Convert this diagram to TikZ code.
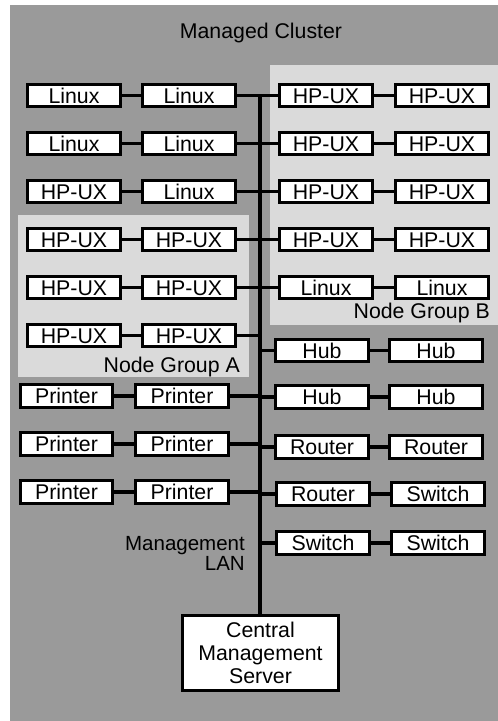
\documentclass[tikz,border=0pt]{standalone}
\usepackage{fontspec}
\setmainfont{Liberation Sans}
\definecolor{outergray}{HTML}{9A9A9A}
\definecolor{groupgray}{HTML}{DADADA}
\begin{document}
\begin{tikzpicture}[x=1pt,y=-1pt,
  devbox/.style={draw=black,line width=2.8pt,fill=white,minimum width=92.5pt,minimum height=22.5pt,
    inner sep=0pt,text height=15.2pt,text depth=0pt,font=\fontsize{21.3}{24}\selectfont},
  link/.style={line width=3.2pt,black},
  lbl/.style={inner sep=0pt,font=\fontsize{21.3}{24}\selectfont}]
\useasboundingbox (0,0) rectangle (498,721);
% backgrounds
\fill[outergray] (10,5) rectangle (498,721);
\fill[groupgray] (270,65) rectangle (498,325);
\fill[groupgray] (17.7,215) rectangle (249,377);
\node[lbl,anchor=base] (title) at (261,38) {Managed Cluster};
\node[lbl,anchor=base east] (grpB) at (490,318.5) {Node Group B};
\node[lbl,anchor=base east] (grpA) at (240,372) {Node Group A};
% bus
\coordinate (bustop) at (259.7,95.5);
\coordinate (busbot) at (259.7,614);
\draw[link,line width=3.6pt] (bustop) -- (busbot);
% left side rows 1-6
\node[devbox] (l1a) at (74,95.5) {Linux};
\node[devbox] (l1b) at (189,95.5) {Linux};
\node[devbox] (l2a) at (74,143.5) {Linux};
\node[devbox] (l2b) at (189,143.5) {Linux};
\node[devbox] (l3a) at (74,191.5) {HP-UX};
\node[devbox] (l3b) at (189,191.5) {Linux};
\node[devbox] (l4a) at (74,239.5) {HP-UX};
\node[devbox] (l4b) at (189,239.5) {HP-UX};
\node[devbox] (l5a) at (74,287.5) {HP-UX};
\node[devbox] (l5b) at (189,287.5) {HP-UX};
\node[devbox] (l6a) at (74,335.5) {HP-UX};
\node[devbox] (l6b) at (189,335.5) {HP-UX};
% left side printers
\node[devbox] (l7a) at (66.5,396) {Printer};
\node[devbox] (l7b) at (182,396) {Printer};
\node[devbox] (l8a) at (66.5,444) {Printer};
\node[devbox] (l8b) at (182,444) {Printer};
\node[devbox] (l9a) at (66.5,492) {Printer};
\node[devbox] (l9b) at (182,492) {Printer};
% right side rows 1-5
\node[devbox] (r1a) at (326,95.5) {HP-UX};
\node[devbox] (r1b) at (442,95.5) {HP-UX};
\node[devbox] (r2a) at (326,143.5) {HP-UX};
\node[devbox] (r2b) at (442,143.5) {HP-UX};
\node[devbox] (r3a) at (326,191.5) {HP-UX};
\node[devbox] (r3b) at (442,191.5) {HP-UX};
\node[devbox] (r4a) at (326,239.5) {HP-UX};
\node[devbox] (r4b) at (442,239.5) {HP-UX};
\node[devbox] (r5a) at (326,287.5) {Linux};
\node[devbox] (r5b) at (442,287.5) {Linux};
% right side network devices
\node[devbox] (r6a) at (322,350.5) {Hub};
\node[devbox] (r6b) at (436,350.5) {Hub};
\node[devbox] (r7a) at (322,397) {Hub};
\node[devbox] (r7b) at (436,397) {Hub};
\node[devbox] (r8a) at (322,447) {Router};
\node[devbox] (r8b) at (436,447) {Router};
\node[devbox] (r9a) at (323,494) {Router};
\node[devbox] (r9b) at (438,494) {Switch};
\node[devbox] (r10a) at (323,543) {Switch};
\node[devbox] (r10b) at (438,543) {Switch};
% server
\node[draw=black,line width=2.8pt,fill=white,minimum width=156.5pt,minimum height=75.5pt,inner sep=0pt,
  align=center,font=\fontsize{21.3}{23.3}\selectfont] (cms) at (260.5,653)
  {Central\\Management\\Server};
\node[inner sep=0pt,align=right,font=\fontsize{20.5}{20}\selectfont,anchor=east] (lan) at (245,553)
  {Management\\LAN};
% connectors
\foreach \i in {1,...,9}{
  \draw[link] (l\i a.east) -- (l\i b.west);
  \draw[link] (l\i b.east) -- (l\i b.east -| bustop);
}
\foreach \i in {1,...,10}{
  \draw[link] (r\i a.east) -- (r\i b.west);
  \draw[link] (r\i a.west -| bustop) -- (r\i a.west);
}
\end{tikzpicture}
\end{document}
